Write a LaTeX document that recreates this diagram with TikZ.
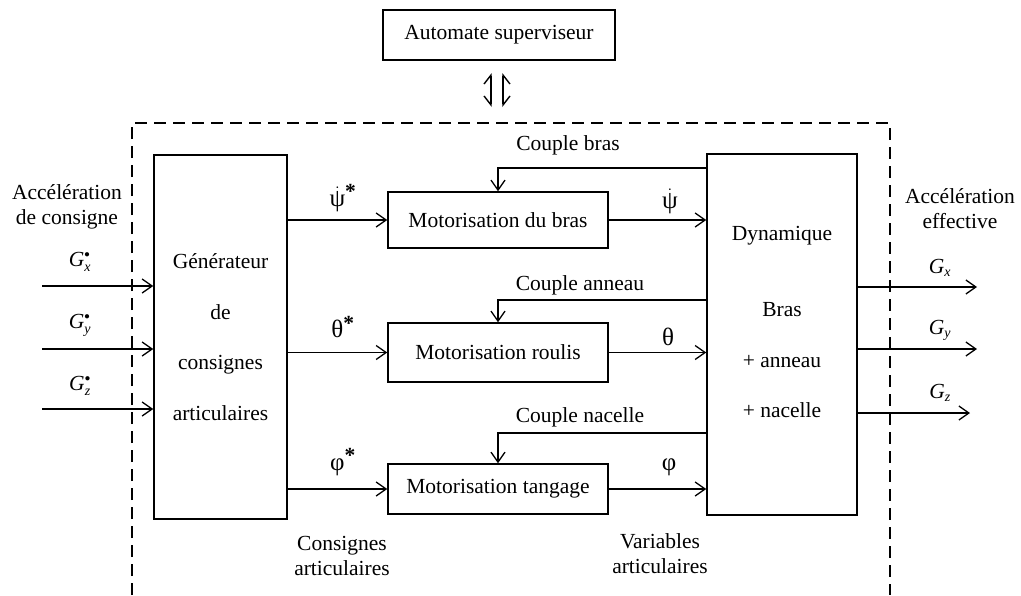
\documentclass[tikz,border=0pt]{standalone}
\usepackage{fontspec}
\setmainfont{Liberation Serif}
\usetikzlibrary{arrows.meta}
\newcommand{\subfnt}{\fontsize{14}{14}\selectfont\itshape}
\newcommand{\grk}{\fontsize{25}{25}\selectfont}
\newcommand{\Gin}[1]{$\mbox{\itshape G}^{\scriptscriptstyle\bullet}_{\mbox{\subfnt #1}}$}
\newcommand{\Gout}[1]{$\mbox{\itshape G}_{\mbox{\subfnt #1}}$}
\newcommand{\dotpsi}{$\dot{\mbox{\grk ψ}}$}
\newcommand{\str}{$^{\mbox{\bfseries *}}$}
\begin{document}
\begin{tikzpicture}[x=1pt,y=-1pt,
  every node/.style={font=\fontsize{21.5}{25}\selectfont},
  blk/.style={draw, line width=1.5pt, inner sep=0pt},
  conn/.style={line width=1.3pt, -{Straight Barb[length=10pt,width=14pt]}},
  lbl/.style={inner sep=0pt, align=center}]
\useasboundingbox (0,0) rectangle (1021,595);
\fill[white] (0,0) rectangle (1021,595);

% blocks
\node[blk, minimum width=232pt, minimum height=50pt] (auto) at (499,35) {Automate superviseur};
\node[blk, minimum width=133pt, minimum height=364pt, align=center,
      font=\fontsize{21.5}{50.5}\selectfont] (gen) at (220.5,337) {Générateur\\de\\consignes\\articulaires};
\node[blk, minimum width=220pt, minimum height=56pt] (bras) at (498,220) {Motorisation du bras};
\node[blk, minimum width=220pt, minimum height=59pt] (roulis) at (498,352.5) {Motorisation roulis};
\node[blk, minimum width=220pt, minimum height=50pt] (tang) at (498,489) {Motorisation tangage};
\node[blk, minimum width=150pt, minimum height=361pt] (dyn) at (782,334.5) {};
\node[lbl, font=\fontsize{21.5}{50.5}\selectfont] (dyntxt) at (782,322) {Dynamique\\[26pt]Bras\\+ anneau\\+ nacelle};

% dashed frame
\draw[dashed, line width=1.4pt, dash pattern=on 12pt off 7pt] (132,595) -- (132,123) -- (890,123) -- (890,595);

% supervisor link
\coordinate (s1a) at (491,107); \coordinate (s1b) at (491,73);
\coordinate (s2a) at (503,107); \coordinate (s2b) at (503,73);
\draw[line width=1.4pt, {Straight Barb[right,length=9pt,width=14pt,line width=1.4pt]}-{Straight Barb[left,length=9pt,width=14pt,line width=1.4pt]}] (s1a) -- (s1b);
\draw[line width=1.4pt, {Straight Barb[left,length=9pt,width=14pt,line width=1.4pt]}-{Straight Barb[right,length=9pt,width=14pt,line width=1.4pt]}] (s2a) -- (s2b);

% inputs
\coordinate (ix) at (42,286); \coordinate (iy) at (42,349); \coordinate (iz) at (42,409);
\draw[conn] (ix) -- (gen.west |- ix);
\draw[conn] (iy) -- (gen.west |- iy);
\draw[conn] (iz) -- (gen.west |- iz);
\node[lbl] (gxs) at (80,262) {\Gin{x}};
\node[lbl] (gys) at (80,325) {\Gin{y}};
\node[lbl] (gzs) at (80,386) {\Gin{z}};
\node[lbl] (acc1) at (67,207) {Accélération\\de consigne};

% consignes
\draw[conn] (gen.east |- bras) -- (bras.west);
\draw[conn] (gen.east |- roulis) -- (roulis.west);
\draw[conn] (gen.east |- tang) -- (tang.west);
\node[lbl] (psis) at (343,198) {\dotpsi\str};
\node[lbl] (thes) at (343,327) {{\grk θ}\str};
\node[lbl] (phis) at (343,462) {{\grk φ}\str};

% articular variables
\draw[conn] (bras.east) -- (dyn.west |- bras);
\draw[conn] (roulis.east) -- (dyn.west |- roulis);
\draw[conn] (tang.east) -- (dyn.west |- tang);
\node[lbl] (psio) at (670,201) {\dotpsi};
\node[lbl] (theo) at (668,337) {\grk θ};
\node[lbl] (phio) at (669,467) {\grk φ};

% couples
\coordinate (cb) at (0,168); \coordinate (ca) at (0,300); \coordinate (cn) at (0,433);
\draw[conn] (dyn.west |- cb) -| (bras.north);
\draw[conn] (dyn.west |- ca) -| (roulis.north);
\draw[conn] (dyn.west |- cn) -| (tang.north);
\node[lbl] (lcb) at (568,145) {Couple bras};
\node[lbl] (lca) at (580,285) {Couple anneau};
\node[lbl] (lcn) at (580,417) {Couple nacelle};

% outputs
\coordinate (ox) at (977,287); \coordinate (oy) at (977,349); \coordinate (oz) at (970,413);
\draw[conn] (dyn.east |- ox) -- (ox);
\draw[conn] (dyn.east |- oy) -- (oy);
\draw[conn] (dyn.east |- oz) -- (oz);
\node[lbl] (gxo) at (940,268) {\Gout{x}};
\node[lbl] (gyo) at (940,330) {\Gout{y}};
\node[lbl] (gzo) at (940,393) {\Gout{z}};
\node[lbl] (acc2) at (960,209) {Accélération\\effective};

% bottom labels
\node[lbl] (cons) at (342,556) {Consignes\\articulaires};
\node[lbl] (vars) at (660,554) {Variables\\articulaires};
\end{tikzpicture}
\end{document}
